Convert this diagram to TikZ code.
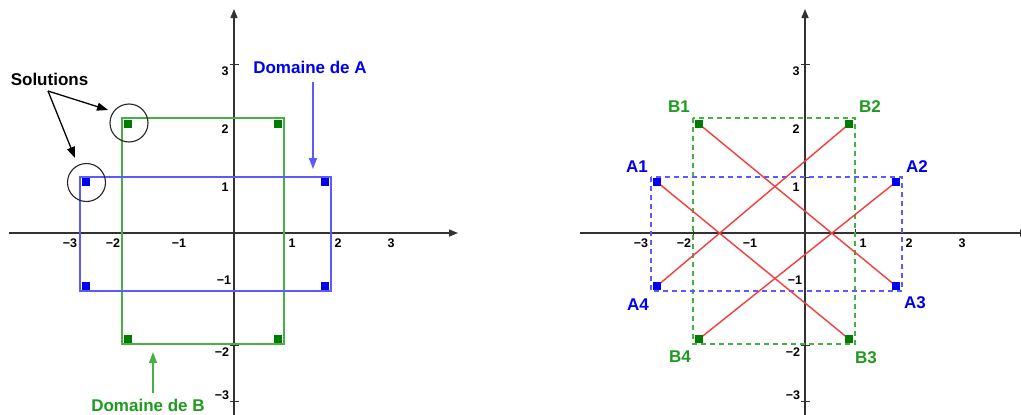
\documentclass[tikz,border=0pt]{standalone}
\usepackage{fontspec}
\setmainfont{Liberation Sans}
\usetikzlibrary{arrows.meta}
\definecolor{ptblue}{RGB}{0,0,240}
\definecolor{lnblue}{RGB}{90,90,255}
\definecolor{ptgreen}{RGB}{0,125,0}
\definecolor{lngreen}{RGB}{70,175,70}
\definecolor{txtgreen}{RGB}{30,155,30}
\definecolor{lnred}{RGB}{245,60,60}
\definecolor{axgray}{RGB}{50,50,50}
\tikzset{
  axisline/.style={draw=axgray, line width=1.4pt, -{Triangle[length=9pt,width=7pt]}},
  tickmark/.style={draw=axgray, line width=1pt},
  ticklab/.style={font=\fontsize{12.5}{14}\selectfont\bfseries, inner sep=0pt, text=black},
  biglab/.style={font=\fontsize{17}{20}\selectfont\bfseries, inner sep=0pt},
  bpt/.style={rectangle, fill=ptblue, minimum size=7.5pt, inner sep=0pt, draw=none},
  gpt/.style={rectangle, fill=ptgreen, minimum size=7.5pt, inner sep=0pt, draw=none},
  arealine/.style={line width=1.7pt},
  dashline/.style={line width=1.4pt, dash pattern=on 5pt off 4pt},
  redline/.style={draw=lnred, line width=1.4pt},
  pointer/.style={line width=1.3pt, -{Triangle[length=11pt,width=8pt]}},
  solcircle/.style={circle, draw=black!85, line width=1.1pt, minimum size=38pt, inner sep=0pt}
}
\newcommand{\myaxes}{%
  \coordinate (xs) at (9,233); \coordinate (xe) at (458,233);
  \coordinate (ys) at (234,418); \coordinate (ye) at (234,9);
  \draw[axisline] (xs) -- (xe);
  \draw[axisline] (ys) -- (ye);
  \foreach \yy/\nm in {64/t3,177/t1,345/tm2,401/tm3}{
    \coordinate (\nm a) at (230,\yy); \coordinate (\nm b) at (239,\yy);
    \draw[tickmark] (\nm a) -- (\nm b);}
  \foreach \xx/\nm in {122/s2,284/s1}{
    \coordinate (\nm a) at (\xx,229); \coordinate (\nm b) at (\xx,237);
    \draw[tickmark] (\nm a) -- (\nm b);}
  \node[ticklab] (xlm3) at (70,243) {−3};
  \node[ticklab] (xlm2) at (113,243) {−2};
  \node[ticklab] (xlm1) at (179,243) {−1};
  \node[ticklab] (xl1) at (292,243) {1};
  \node[ticklab] (xl2) at (338,243) {2};
  \node[ticklab] (xl3) at (391,243) {3};
  \node[ticklab] (yl3) at (225,71) {3};
  \node[ticklab] (yl2) at (225,129) {2};
  \node[ticklab] (yl1) at (225,187) {1};
  \node[ticklab] (ylm1) at (224,280) {−1};
  \node[ticklab] (ylm2) at (222,352) {−2};
  \node[ticklab] (ylm3) at (222,395) {−3};
  \coordinate (pa1) at (86,182);  \coordinate (pa2) at (325,182);
  \coordinate (pa3) at (325,286); \coordinate (pa4) at (86,286);
  \coordinate (pb1) at (128,124); \coordinate (pb2) at (278,124);
  \coordinate (pb3) at (278,339); \coordinate (pb4) at (128,339);
}
\newcommand{\mypoints}{%
  \node[bpt] (a1) at (pa1) {};
  \node[bpt] (a2) at (pa2) {};
  \node[bpt] (a3) at (pa3) {};
  \node[bpt] (a4) at (pa4) {};
  \node[gpt] (b1) at (pb1) {};
  \node[gpt] (b2) at (pb2) {};
  \node[gpt] (b3) at (pb3) {};
  \node[gpt] (b4) at (pb4) {};
}
\begin{document}
\begin{tikzpicture}[x=1pt,y=-1pt]
\useasboundingbox (0,0) rectangle (1021,415);
\clip (0,0) rectangle (1021,415);
% ---------------- left plot ----------------
\begin{scope}[name prefix=L-]
  \myaxes
  \draw[arealine, lngreen] (122,118) rectangle (284,344);
  \draw[arealine, lnblue] (80,177) rectangle (331,291);
  \mypoints
  \node[solcircle] (c1) at (129,123) {};
  \node[solcircle] (c2) at (86.5,182.5) {};
  \node[biglab, text=black] (sol) at (49.5,79) {Solutions};
  \coordinate (solfoot) at (48,91);
  \coordinate (tip1) at (108,110);
  \coordinate (tip2) at (75,158);
  \draw[pointer, black] (solfoot) -- (tip1);
  \draw[pointer, black] (solfoot) -- (tip2);
  \node[biglab, text=ptblue] (domA) at (310,67) {Domaine de A};
  \coordinate (domAs) at (313,82); \coordinate (domAe) at (313,169);
  \draw[pointer, draw=lnblue, fill=ptblue] (domAs) -- (domAe);
  \node[biglab, text=txtgreen] (domB) at (148,405) {Domaine de B};
  \coordinate (domBs) at (153,393); \coordinate (domBe) at (153,352);
  \draw[pointer, draw=lngreen, fill=txtgreen] (domBs) -- (domBe);
\end{scope}
% ---------------- right plot ----------------
\begin{scope}[shift={(571,0)}, name prefix=R-]
  \myaxes
  \draw[dashline, lngreen] (122,118) rectangle (284,344);
  \draw[dashline, lnblue] (80,177) rectangle (331,291);
  \draw[redline] (pa1) -- (pb3);
  \draw[redline] (pb1) -- (pa3);
  \draw[redline] (pa4) -- (pb2);
  \draw[redline] (pb4) -- (pa2);
  \mypoints
  \node[biglab, text=txtgreen] (lb1) at (108,107) {B1};
  \node[biglab, text=txtgreen] (lb2) at (299,107) {B2};
  \node[biglab, text=txtgreen] (lb3) at (295,358) {B3};
  \node[biglab, text=txtgreen] (lb4) at (109,357) {B4};
  \node[biglab, text=ptblue] (la1) at (66,167) {A1};
  \node[biglab, text=ptblue] (la2) at (346,167) {A2};
  \node[biglab, text=ptblue] (la3) at (344,303) {A3};
  \node[biglab, text=ptblue] (la4) at (67,305) {A4};
\end{scope}
\end{tikzpicture}
\end{document}
